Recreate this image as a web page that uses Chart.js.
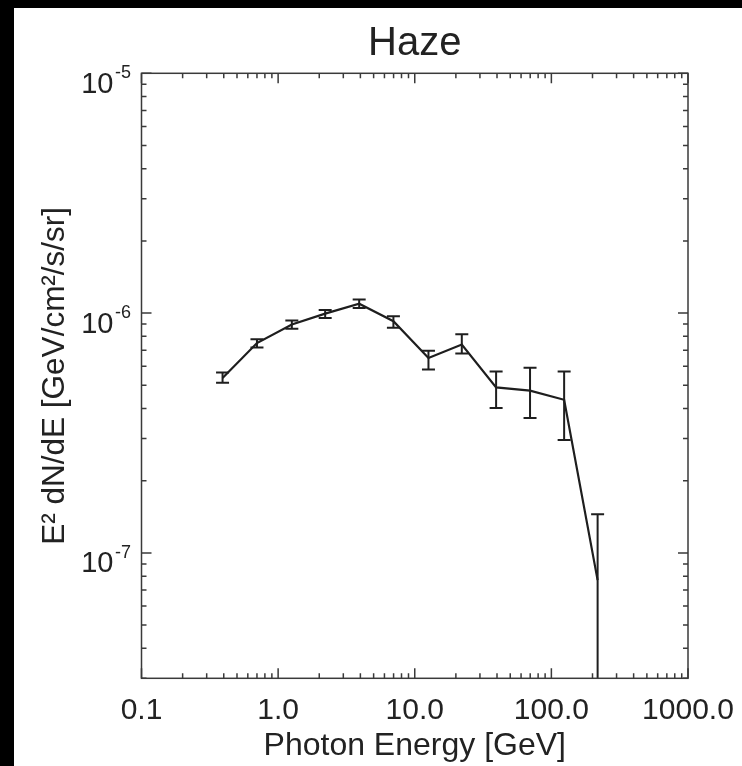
<!DOCTYPE html>
<html>
<head>
<meta charset="utf-8">
<title>Haze</title>
<script src="https://cdn.jsdelivr.net/npm/chart.js@4.4.1/dist/chart.umd.min.js"></script>
<style>
  body { margin: 0; background: #000; }
  #wrap { position: absolute; left: 14px; top: 8px; width: 728px; height: 758px; background: #fff; }
</style>
</head>
<body>
<div id="wrap"><canvas id="hazeSpectrum"></canvas></div>
<script>
// haze spectrum: E^2 dN/dE per energy bin, with 1-sigma bounds
var energy = [0.392, 0.70, 1.26, 2.21, 3.92, 6.98, 12.6, 22.1, 39.4, 69.8, 124, 218];
var flux   = [5.36e-7, 7.50e-7, 8.97e-7, 9.95e-7, 1.094e-6, 9.25e-7, 6.5e-7, 7.4e-7, 4.9e-7, 4.75e-7, 4.35e-7, 7.7e-8];
var fluxHi = [5.65e-7, 7.78e-7, 9.31e-7, 1.03e-6, 1.14e-6, 9.70e-7, 6.97e-7, 8.16e-7, 5.71e-7, 5.92e-7, 5.71e-7, 1.45e-7];
var fluxLo = [5.12e-7, 7.19e-7, 8.60e-7, 9.55e-7, 1.05e-6, 8.68e-7, 5.82e-7, 6.79e-7, 4.02e-7, 3.65e-7, 2.96e-7, 0.9e-8];

var xTicks = [0.1, 1, 10, 100, 1000];
var xTickLabels = ['0.1', '1.0', '10.0', '100.0', '1000.0'];
var yTicks = [1e-7, 1e-6, 1e-5];
var yTickExp = ['-7', '-6', '-5'];

var FONT = "'Liberation Sans', Arial, Helvetica, sans-serif";
var INK = '#222';
var LINE = '#1e1e1e';

var points = energy.map(function (e, i) { return { x: e, y: flux[i] }; });

// error bars, inward ticks on all four sides, and 10^n labels
var frameAndBars = {
  id: 'frameAndBars',
  afterDatasetsDraw: function (chart) {
    var ctx = chart.ctx, a = chart.chartArea;
    var xs = chart.scales.x, ys = chart.scales.y;

    ctx.save();
    ctx.beginPath();
    ctx.rect(a.left, a.top, a.right - a.left, a.bottom - a.top);
    ctx.clip();
    ctx.strokeStyle = LINE;
    ctx.lineWidth = 2;
    energy.forEach(function (e, i) {
      var px = xs.getPixelForValue(e);
      var hi = ys.getPixelForValue(fluxHi[i]);
      var lo = ys.getPixelForValue(fluxLo[i]);
      ctx.beginPath();
      ctx.moveTo(px, hi); ctx.lineTo(px, lo);
      ctx.moveTo(px - 6.5, hi); ctx.lineTo(px + 6.5, hi);
      if (fluxLo[i] > ys.min) { ctx.moveTo(px - 6.5, lo); ctx.lineTo(px + 6.5, lo); }
      ctx.stroke();
    });
    ctx.restore();

    ctx.save();
    ctx.strokeStyle = '#3a3a3a';
    ctx.lineWidth = 1.5;
    ctx.strokeRect(a.left, a.top, a.right - a.left, a.bottom - a.top);

    ctx.beginPath();
    var d, m, v, p, len;
    // x ticks (bottom and top)
    for (d = -1; d <= 3; d++) {
      for (m = 1; m <= 9; m++) {
        v = m * Math.pow(10, d);
        if (v > 1000) break;
        p = xs.getPixelForValue(v);
        len = m === 1 ? 10 : 5;
        ctx.moveTo(p, a.bottom); ctx.lineTo(p, a.bottom - len);
        ctx.moveTo(p, a.top); ctx.lineTo(p, a.top + len);
      }
    }
    // y ticks (left and right)
    for (d = -8; d <= -5; d++) {
      for (m = 1; m <= 9; m++) {
        v = m * Math.pow(10, d);
        if (v < ys.min || v > ys.max) continue;
        p = ys.getPixelForValue(v);
        len = m === 1 ? 10 : 5;
        ctx.moveTo(a.left, p); ctx.lineTo(a.left + len, p);
        ctx.moveTo(a.right, p); ctx.lineTo(a.right - len, p);
      }
    }
    ctx.stroke();

    // y tick labels with superscript exponents
    ctx.fillStyle = INK;
    ctx.textBaseline = 'alphabetic';
    ctx.textAlign = 'right';
    var rightEdge = a.left - 10.5;
    yTicks.forEach(function (t, i) {
      var py = ys.getPixelForValue(t);
      ctx.font = '18px ' + FONT;
      var supW = ctx.measureText(yTickExp[i]).width;
      ctx.fillText(yTickExp[i], rightEdge, py + 5);
      ctx.font = '29px ' + FONT;
      ctx.fillText('10', rightEdge - supW - 1.5, py + 19.5);
    });
    ctx.restore();
  }
};

var chart = new Chart(document.getElementById('hazeSpectrum'), {
  type: 'line',
  data: {
    datasets: [{
      data: points,
      borderColor: LINE,
      borderWidth: 2.2,
      pointRadius: 0,
      tension: 0,
      fill: false
    }]
  },
  options: {
    responsive: true,
    maintainAspectRatio: false,
    animation: false,
    layout: { padding: { left: 0, right: 54, top: 0, bottom: 0 } },
    plugins: {
      legend: { display: false },
      tooltip: { enabled: false },
      title: {
        display: true,
        fullSize: false,
        text: 'Haze',
        color: INK,
        font: { family: FONT, size: 40, weight: 'normal', lineHeight: 1.2 },
        padding: { top: 12, bottom: 5.3 }
      }
    },
    scales: {
      x: {
        type: 'logarithmic',
        min: 0.1,
        max: 1000,
        grid: { display: false },
        border: { display: false },
        afterBuildTicks: function (s) { s.ticks = xTicks.map(function (v) { return { value: v }; }); },
        afterFit: function (s) { s.height = 87.7; },
        ticks: {
          color: INK,
          padding: 6.5,
          maxRotation: 0,
          autoSkip: false,
          font: { family: FONT, size: 30 },
          callback: function (val, idx) { return xTickLabels[idx]; }
        },
        title: {
          display: true,
          text: 'Photon Energy [GeV]',
          color: INK,
          font: { family: FONT, size: 32 },
          padding: { top: 0, bottom: 0.5 }
        }
      },
      y: {
        type: 'logarithmic',
        min: 3.3e-8,
        max: 1e-5,
        grid: { display: false },
        border: { display: false },
        ticks: { display: false },
        afterFit: function (s) { s.width = 127.5; },
        title: {
          display: true,
          text: 'E² dN/dE [GeV/cm²/s/sr]',
          color: INK,
          font: { family: FONT, size: 31.5 },
          padding: { top: 22.5, bottom: 0 }
        }
      }
    }
  },
  plugins: [frameAndBars]
});
</script>
</body>
</html>
